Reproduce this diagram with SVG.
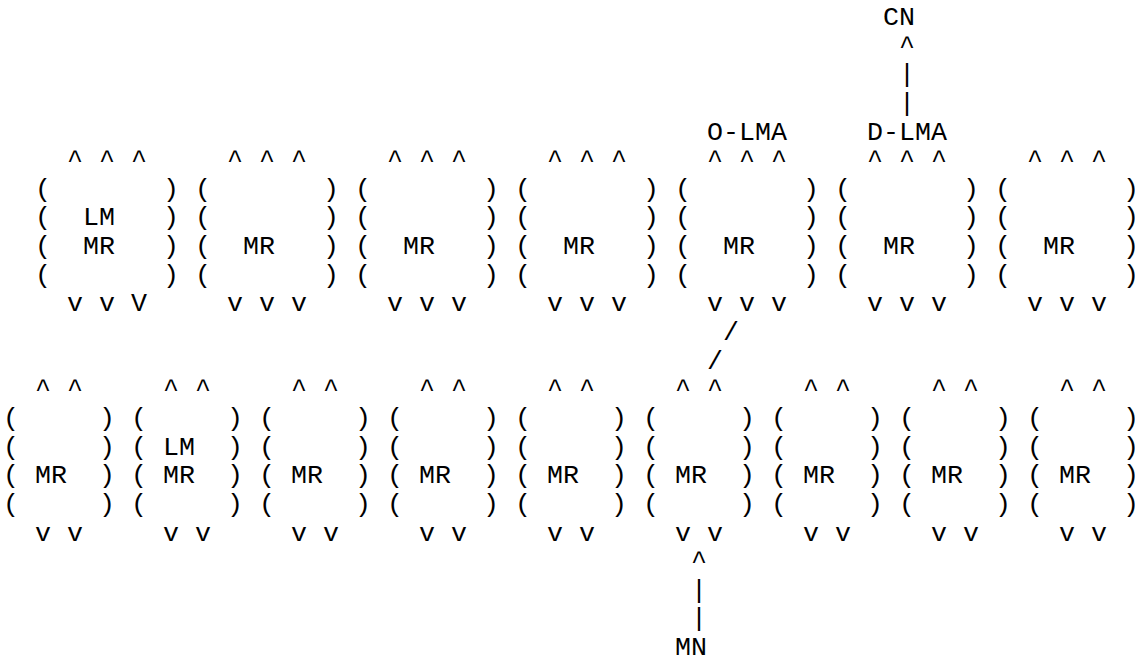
<svg xmlns="http://www.w3.org/2000/svg" width="1135" height="657" viewBox="0 0 1135 657" xml:space="preserve">
<style>
text { font-family: "Liberation Mono", "DejaVu Sans Mono", monospace; font-size: 26.67px; fill: #000; white-space: pre; }
</style>
<rect width="1135" height="657" fill="#fff"/>
<g id="labels">
  <g id="node-CN"><text x="883" y="25">CN</text></g>
  <g id="node-O-LMA"><text x="707" y="139.56">O-LMA</text></g>
  <g id="node-D-LMA"><text x="867" y="139.56">D-LMA</text></g>
  <g id="node-MN"><text x="675" y="655.08">MN</text></g>
</g>
<g id="connectors">
  <text x="899" y="53.64">^</text>
  <text x="899" y="82.28">|</text>
  <text x="899" y="110.92">|</text>
  <text x="723" y="340.04">/</text>
  <text x="707" y="368.68">/</text>
  <text x="691" y="569.16">^</text>
  <text x="691" y="597.8">|</text>
  <text x="691" y="626.44">|</text>
</g>
<g id="top-row">
  <g id="top-1">
    <text x="67" y="168.2">^ ^ ^</text>
    <text x="35" y="196.84">(       )</text>
    <text x="35" y="225.48">(  LM   )</text>
    <text x="35" y="254.12">(  MR   )</text>
    <text x="35" y="282.76">(       )</text>
    <text x="67" y="311.4">v v V</text>
  </g>
  <g id="top-2">
    <text x="227" y="168.2">^ ^ ^</text>
    <text x="195" y="196.84">(       )</text>
    <text x="195" y="225.48">(       )</text>
    <text x="195" y="254.12">(  MR   )</text>
    <text x="195" y="282.76">(       )</text>
    <text x="227" y="311.4">v v v</text>
  </g>
  <g id="top-3">
    <text x="387" y="168.2">^ ^ ^</text>
    <text x="355" y="196.84">(       )</text>
    <text x="355" y="225.48">(       )</text>
    <text x="355" y="254.12">(  MR   )</text>
    <text x="355" y="282.76">(       )</text>
    <text x="387" y="311.4">v v v</text>
  </g>
  <g id="top-4">
    <text x="547" y="168.2">^ ^ ^</text>
    <text x="515" y="196.84">(       )</text>
    <text x="515" y="225.48">(       )</text>
    <text x="515" y="254.12">(  MR   )</text>
    <text x="515" y="282.76">(       )</text>
    <text x="547" y="311.4">v v v</text>
  </g>
  <g id="top-5">
    <text x="707" y="168.2">^ ^ ^</text>
    <text x="675" y="196.84">(       )</text>
    <text x="675" y="225.48">(       )</text>
    <text x="675" y="254.12">(  MR   )</text>
    <text x="675" y="282.76">(       )</text>
    <text x="707" y="311.4">v v v</text>
  </g>
  <g id="top-6">
    <text x="867" y="168.2">^ ^ ^</text>
    <text x="835" y="196.84">(       )</text>
    <text x="835" y="225.48">(       )</text>
    <text x="835" y="254.12">(  MR   )</text>
    <text x="835" y="282.76">(       )</text>
    <text x="867" y="311.4">v v v</text>
  </g>
  <g id="top-7">
    <text x="1027" y="168.2">^ ^ ^</text>
    <text x="995" y="196.84">(       )</text>
    <text x="995" y="225.48">(       )</text>
    <text x="995" y="254.12">(  MR   )</text>
    <text x="995" y="282.76">(       )</text>
    <text x="1027" y="311.4">v v v</text>
  </g>
</g>
<g id="bottom-row">
  <g id="bot-1">
    <text x="35" y="397.32">^ ^</text>
    <text x="3" y="425.96">(     )</text>
    <text x="3" y="454.6">(     )</text>
    <text x="3" y="483.24">( MR  )</text>
    <text x="3" y="511.88">(     )</text>
    <text x="35" y="540.52">v v</text>
  </g>
  <g id="bot-2">
    <text x="163" y="397.32">^ ^</text>
    <text x="131" y="425.96">(     )</text>
    <text x="131" y="454.6">( LM  )</text>
    <text x="131" y="483.24">( MR  )</text>
    <text x="131" y="511.88">(     )</text>
    <text x="163" y="540.52">v v</text>
  </g>
  <g id="bot-3">
    <text x="291" y="397.32">^ ^</text>
    <text x="259" y="425.96">(     )</text>
    <text x="259" y="454.6">(     )</text>
    <text x="259" y="483.24">( MR  )</text>
    <text x="259" y="511.88">(     )</text>
    <text x="291" y="540.52">v v</text>
  </g>
  <g id="bot-4">
    <text x="419" y="397.32">^ ^</text>
    <text x="387" y="425.96">(     )</text>
    <text x="387" y="454.6">(     )</text>
    <text x="387" y="483.24">( MR  )</text>
    <text x="387" y="511.88">(     )</text>
    <text x="419" y="540.52">v v</text>
  </g>
  <g id="bot-5">
    <text x="547" y="397.32">^ ^</text>
    <text x="515" y="425.96">(     )</text>
    <text x="515" y="454.6">(     )</text>
    <text x="515" y="483.24">( MR  )</text>
    <text x="515" y="511.88">(     )</text>
    <text x="547" y="540.52">v v</text>
  </g>
  <g id="bot-6">
    <text x="675" y="397.32">^ ^</text>
    <text x="643" y="425.96">(     )</text>
    <text x="643" y="454.6">(     )</text>
    <text x="643" y="483.24">( MR  )</text>
    <text x="643" y="511.88">(     )</text>
    <text x="675" y="540.52">v v</text>
  </g>
  <g id="bot-7">
    <text x="803" y="397.32">^ ^</text>
    <text x="771" y="425.96">(     )</text>
    <text x="771" y="454.6">(     )</text>
    <text x="771" y="483.24">( MR  )</text>
    <text x="771" y="511.88">(     )</text>
    <text x="803" y="540.52">v v</text>
  </g>
  <g id="bot-8">
    <text x="931" y="397.32">^ ^</text>
    <text x="899" y="425.96">(     )</text>
    <text x="899" y="454.6">(     )</text>
    <text x="899" y="483.24">( MR  )</text>
    <text x="899" y="511.88">(     )</text>
    <text x="931" y="540.52">v v</text>
  </g>
  <g id="bot-9">
    <text x="1059" y="397.32">^ ^</text>
    <text x="1027" y="425.96">(     )</text>
    <text x="1027" y="454.6">(     )</text>
    <text x="1027" y="483.24">( MR  )</text>
    <text x="1027" y="511.88">(     )</text>
    <text x="1059" y="540.52">v v</text>
  </g>
</g>
</svg>
